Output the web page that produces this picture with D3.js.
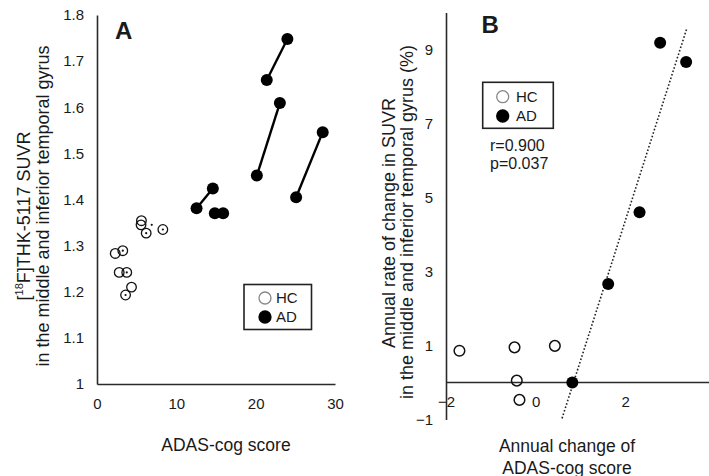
<!DOCTYPE html>
<html><head><meta charset="utf-8">
<script src="https://cdn.jsdelivr.net/npm/d3@7"></script>
<style>
body{margin:0;background:#fff;}
svg{display:block;font-family:"Liberation Sans",Arial,sans-serif;}
text{fill:#1a1a1a;}
</style></head>
<body><svg id="c" width="709" height="476"></svg>
<script>
// ---------- Panel A data ----------
const xTicksA = [0, 10, 20, 30];
const yTicksA = [1, 1.1, 1.2, 1.3, 1.4, 1.5, 1.6, 1.7, 1.8];
// HC: [ADAS-cog, SUVR, hasCenterDot]
const hcA = [
  [5.6, 1.354, 0], [5.55, 1.345, 0], [6.2, 1.327, 1], [8.3, 1.335, 1],
  [2.3, 1.283, 0], [3.25, 1.289, 1], [2.8, 1.242, 0], [3.75, 1.242, 1],
  [4.35, 1.210, 0], [3.6, 1.193, 1]
];
const hcExtraDotsA = [[6.9, 1.345]];
// AD: baseline -> follow-up pairs
const adPairsA = [
  [[21.4, 1.659], [24.0, 1.748]],
  [[20.15, 1.452], [23.05, 1.609]],
  [[25.1, 1.405], [28.45, 1.546]],
  [[12.55, 1.381], [14.6, 1.424]],
  [[14.85, 1.370], [15.9, 1.370]]
];
// ---------- Panel B data ----------
const xTicksB = [-2, 0, 2];
const yTicksB = [-1, 1, 3, 5, 7, 9];
const hcB = [[-1.70, 0.86], [-0.47, 0.95], [0.43, 0.99], [-0.42, 0.05], [-0.36, -0.47]];
const adB = [[0.82, 0.0], [1.62, 2.66], [2.32, 4.60], [2.78, 9.18], [3.36, 8.66]];
const fitLineB = [[0.59, -0.97], [3.37, 9.55]];
const statsB = ["r=0.900", "p=0.037"];
const legendLabels = ["HC", "AD"];

const svg = d3.select("#c");
const ink = "#1a1a1a";

// ---------- Panel A ----------
const xA = d3.scaleLinear().domain([0, 30]).range([97, 335]);
const yA = d3.scaleLinear().domain([1, 1.8]).range([384, 15]);

const gA = svg.append("g");
const axA_x = gA.append("g").attr("transform", `translate(0,${yA(1)})`)
  .call(d3.axisBottom(xA).tickValues(xTicksA).tickSize(0).tickPadding(14).tickFormat(d3.format("d")));
const axA_y = gA.append("g").attr("transform", `translate(${xA(0)},0)`)
  .call(d3.axisLeft(yA).tickValues(yTicksA).tickSize(0).tickPadding(13).tickFormat(d => d3.format("")(+d.toFixed(1))));
[axA_x, axA_y].forEach(a => {
  a.select(".domain").attr("stroke", "#2a2a2a").attr("stroke-width", 1.6);
  a.selectAll("text").attr("font-size", 15).attr("font-family", "Liberation Sans, Arial").attr("fill", ink);
});

// AD pairs
gA.selectAll("line.adA").data(adPairsA).join("line")
  .attr("x1", d => xA(d[0][0])).attr("y1", d => yA(d[0][1]))
  .attr("x2", d => xA(d[1][0])).attr("y2", d => yA(d[1][1]))
  .attr("stroke", "#000").attr("stroke-width", 2.4);
gA.selectAll("circle.adA").data(adPairsA.flat()).join("circle")
  .attr("cx", d => xA(d[0])).attr("cy", d => yA(d[1])).attr("r", 6).attr("fill", "#000");
// HC
gA.selectAll("circle.hcA").data(hcA).join("circle")
  .attr("cx", d => xA(d[0])).attr("cy", d => yA(d[1])).attr("r", 4.8)
  .attr("fill", "none").attr("stroke", "#111").attr("stroke-width", 1.3);
gA.selectAll("circle.hcDot").data(hcA.filter(d => d[2]).concat(hcExtraDotsA)).join("circle")
  .attr("cx", d => xA(d[0])).attr("cy", d => yA(d[1])).attr("r", 1.1).attr("fill", "#111");

// label A
gA.append("text").attr("x", 115).attr("y", 39).attr("font-size", 24).attr("font-weight", "bold").text("A");

// y title A
const ytA = gA.append("text").attr("text-anchor", "middle").attr("font-size", 18)
  .attr("transform", "translate(30,216) rotate(-90)");
ytA.append("tspan").text("[");
ytA.append("tspan").attr("font-size", 11).attr("dy", -7).text("18");
ytA.append("tspan").attr("dy", 7).text("F]THK-5117 SUVR");
gA.append("text").attr("text-anchor", "middle").attr("font-size", 18)
  .attr("transform", "translate(48.5,206) rotate(-90)")
  .text("in the middle and inferior temporal gyrus");
// x title A
gA.append("text").attr("x", 226).attr("y", 451).attr("text-anchor", "middle").attr("font-size", 17.5).text("ADAS-cog score");

// legend
function legend(g, x0, y0, w, h, cx, cy1, cy2, tx) {
  g.append("rect").attr("x", x0).attr("y", y0).attr("width", w).attr("height", h)
    .attr("fill", "#fff").attr("stroke", "#222").attr("stroke-width", 1.6);
  const rows = g.selectAll("g.lg").data(legendLabels).join("g")
    .attr("transform", (d, i) => `translate(0,${i ? cy2 : cy1})`);
  rows.append("circle").attr("cx", cx).attr("cy", 0).attr("r", 6)
    .attr("fill", (d, i) => i ? "#000" : "none")
    .attr("stroke", (d, i) => i ? "#000" : "#888").attr("stroke-width", 1.3);
  rows.append("text").attr("x", tx).attr("y", 5.4).attr("font-size", 15).text(d => d);
}
legend(gA.append("g"), 244, 284.5, 67.5, 45, 265, 298, 317, 276);

// ---------- Panel B ----------
const xB = d3.scaleLinear().domain([-2, 3.9]).range([446, 446 + 5.9 * 44.8]);
const yB = d3.scaleLinear().domain([-1, 10]).range([419.5, 12.5]);
const gB = svg.append("g");

const axB_y = gB.append("g").attr("transform", `translate(${xB(-2)},0)`)
  .call(d3.axisLeft(yB).tickValues(yTicksB).tickSize(0).tickPadding(13).tickFormat(d3.format("d")));
const axB_x = gB.append("g").attr("transform", `translate(0,${yB(0)})`)
  .call(d3.axisBottom(xB).tickValues(xTicksB).tickSize(0).tickPadding(14).tickFormat(d3.format("d")));
axB_x.select(".domain").attr("d", `M${xB(-2)},0H709`);
[axB_x, axB_y].forEach(a => {
  a.select(".domain").attr("stroke", "#2a2a2a").attr("stroke-width", 1.6);
  a.selectAll("text").attr("font-size", 15).attr("font-family", "Liberation Sans, Arial").attr("fill", ink);
});

// fit line
gB.append("line")
  .attr("x1", xB(fitLineB[0][0])).attr("y1", yB(fitLineB[0][1]))
  .attr("x2", xB(fitLineB[1][0])).attr("y2", yB(fitLineB[1][1]))
  .attr("stroke", "#222").attr("stroke-width", 1.6).attr("stroke-dasharray", "1.6,2");

gB.selectAll("circle.hcB").data(hcB).join("circle")
  .attr("cx", d => xB(d[0])).attr("cy", d => yB(d[1])).attr("r", 5.3)
  .attr("fill", "none").attr("stroke", "#111").attr("stroke-width", 1.5);
gB.selectAll("circle.adB").data(adB).join("circle")
  .attr("cx", d => xB(d[0])).attr("cy", d => yB(d[1])).attr("r", 6).attr("fill", "#000");

gB.append("text").attr("x", 481.5).attr("y", 33).attr("font-size", 24).attr("font-weight", "bold").text("B");

legend(gB.append("g"), 482.7, 82.3, 70.6, 46, 502.7, 96.7, 116, 516);
gB.selectAll("text.stat").data(statsB).join("text")
  .attr("x", 490).attr("y", (d, i) => 150.5 + i * 18.5).attr("font-size", 16).text(d => d);

// y title B
gB.append("text").attr("text-anchor", "middle").attr("font-size", 18)
  .attr("transform", "translate(395,223) rotate(-90)").text("Annual rate of change in SUVR");
gB.append("text").attr("text-anchor", "middle").attr("font-size", 18)
  .attr("transform", "translate(412.5,222) rotate(-90)").text("in the middle and inferior temporal gyrus (%)");
// x title B
gB.append("text").attr("x", 567).attr("y", 452).attr("text-anchor", "middle").attr("font-size", 17.5).text("Annual change of");
gB.append("text").attr("x", 567).attr("y", 473.5).attr("text-anchor", "middle").attr("font-size", 17.5).text("ADAS-cog score");
</script></body></html>
